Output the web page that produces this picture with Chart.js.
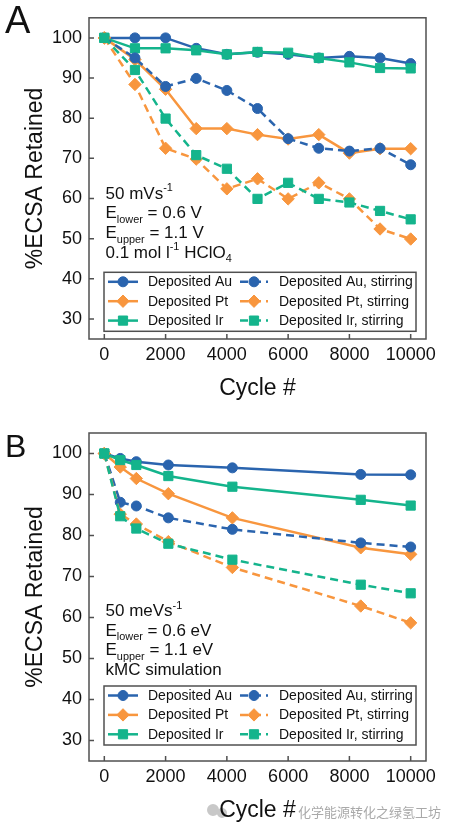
<!DOCTYPE html>
<html>
<head>
<meta charset="utf-8">
<script src="https://cdn.jsdelivr.net/npm/chart.js@4.4.0/dist/chart.umd.min.js"></script>
<style>
body { margin: 0; background: #fff; }
canvas { display: block; }
</style>
</head>
<body>
<canvas id="chartA" width="455" height="415"></canvas>
<canvas id="chartB" width="455" height="416"></canvas>
<script>
// panel A: experiment
const cyclesA = [0, 1000, 2000, 3000, 4000, 5000, 6000, 7000, 8000, 9000, 10000];
const auA     = [100, 100, 100, 97.4, 95.9, 96.4, 95.9, 95.0, 95.4, 95.0, 93.6];
const ptA     = [100, 94.6, 87.2, 77.4, 77.4, 75.9, 74.8, 75.9, 71.3, 72.4, 72.4];
const irA     = [100, 97.4, 97.4, 96.9, 95.9, 96.5, 96.3, 95.0, 93.9, 92.5, 92.4];
const auStirA = [100, 95.0, 87.9, 89.9, 86.9, 82.4, 74.9, 72.5, 71.8, 72.5, 68.4];
const ptStirA = [100, 88.4, 72.5, 69.8, 62.4, 64.9, 59.9, 63.9, 59.9, 52.4, 49.9];
const irStirA = [100, 92.0, 79.9, 70.8, 67.4, 59.9, 63.9, 59.9, 59.0, 56.9, 54.8];

// panel B: kMC simulation
const cyclesB = [0, 520, 1045, 2090, 4180, 8370, 10000];
const auB     = [100, 98.8, 98.0, 97.2, 96.5, 94.9, 94.8];
const ptB     = [100, 96.7, 93.9, 90.2, 84.3, 77.0, 75.4];
const irB     = [100, 98.4, 97.2, 94.5, 91.9, 88.7, 87.3];
const auStirB = [100, 88.1, 87.2, 84.3, 81.5, 78.2, 77.2];
const ptStirB = [100, 85.2, 82.8, 78.5, 72.2, 62.8, 58.7];
const irStirB = [100, 84.7, 81.7, 78.0, 74.1, 68.0, 65.9];

const xTicks = [0, 2000, 4000, 6000, 8000, 10000];
const yTicks = [30, 40, 50, 60, 70, 80, 90, 100];
const seriesNames = ['Deposited Au', 'Deposited Pt', 'Deposited Ir',
  'Deposited Au, stirring', 'Deposited Pt, stirring', 'Deposited Ir, stirring'];

const colors = ['#2a64ae', '#f8963e', '#14b48c'];
const markers = ['circle', 'rectRot', 'rect'];
const radii = [5, 6.2, 6.5];
const FONT = '"Liberation Sans", Arial, Helvetica, sans-serif';
const frameColor = '#505050';

// text blocks (0 normal, 1 superscript, -1 subscript)
const panels = {
  chartA: {
    letter: 'A', letterSize: 38, letterY: 33, textTop: 180.7, legendTop: 254.5,
    note: [
      [['50 mVs', 0], ['-1', 1]],
      [['E', 0], ['lower', -1], [' = 0.6 V', 0]],
      [['E', 0], ['upper', -1], [' = 1.1 V', 0]],
      [['0.1 mol l', 0], ['-1', 1], [' HClO', 0], ['4', -1]]
    ]
  },
  chartB: {
    letter: 'B', letterSize: 32, letterY: 42, textTop: 183, legendTop: 253,
    note: [
      [['50 meVs', 0], ['-1', 1]],
      [['E', 0], ['lower', -1], [' = 0.6 eV', 0]],
      [['E', 0], ['upper', -1], [' = 1.1 eV', 0]],
      [['kMC simulation', 0]]
    ],
    watermark: '化学能源转化之绿氢工坊'
  }
};

function makeDatasets(xs, series) {
  return series.map((ys, i) => ({
    label: seriesNames[i],
    data: xs.map((x, k) => ({ x: x, y: ys[k] })),
    borderColor: colors[i % 3],
    backgroundColor: colors[i % 3],
    pointBackgroundColor: colors[i % 3],
    pointBorderColor: colors[i % 3],
    borderWidth: 2.5,
    borderDash: i >= 3 ? [8, 5] : [],
    pointStyle: markers[i % 3],
    pointRadius: radii[i % 3],
    pointBorderWidth: 1,
    tension: 0,
    order: 6 - i
  }));
}

function drawRich(ctx, runs, x, y, size) {
  runs.forEach(r => {
    const s = r[1] ? size * 0.64 : size;
    ctx.font = s + 'px ' + FONT;
    const dy = r[1] === -1 ? size * 0.28 : r[1] === 1 ? -size * 0.42 : 0;
    ctx.fillText(r[0], x, y + dy);
    x += ctx.measureText(r[0]).width;
  });
}

function drawMarker(ctx, i, cx, cy) {
  ctx.fillStyle = colors[i % 3];
  ctx.strokeStyle = colors[i % 3];
  ctx.lineWidth = 1;
  ctx.setLineDash([]);
  Chart.helpers.drawPoint(ctx, { pointStyle: markers[i % 3], radius: radii[i % 3], rotation: 0, borderWidth: 1 }, cx, cy);
}

const decor = {
  id: 'decor',
  afterDraw(chart) {
    const p = panels[chart.canvas.id];
    const ctx = chart.ctx;
    const a = chart.chartArea;
    ctx.save();

    // frame + inward ticks
    ctx.strokeStyle = frameColor;
    ctx.lineWidth = 1.5;
    ctx.setLineDash([]);
    ctx.strokeRect(a.left, a.top, a.right - a.left, a.bottom - a.top);
    ctx.beginPath();
    chart.scales.x.ticks.forEach(t => {
      const px = chart.scales.x.getPixelForValue(t.value);
      ctx.moveTo(px, a.bottom);
      ctx.lineTo(px, a.bottom - 5);
    });
    chart.scales.y.ticks.forEach(t => {
      const py = chart.scales.y.getPixelForValue(t.value);
      ctx.moveTo(a.left, py);
      ctx.lineTo(a.left + 5, py);
    });
    ctx.stroke();

    // conditions text
    ctx.fillStyle = '#111';
    ctx.textBaseline = 'alphabetic';
    ctx.textAlign = 'left';
    p.note.forEach((line, k) => drawRich(ctx, line, 105.5, a.top + p.textTop + k * 19.7, 17));

    // legend
    const lt = a.top + p.legendTop;
    ctx.fillStyle = '#fff';
    ctx.fillRect(104, lt, 312, 59);
    ctx.strokeStyle = frameColor;
    ctx.lineWidth = 1.5;
    ctx.strokeRect(104, lt, 312, 59);
    seriesNames.forEach((name, i) => {
      const col = i < 3 ? 0 : 1;
      const row = i % 3;
      const y = lt + 9.5 + row * 19.4;
      const x1 = col ? 240 : 108, x2 = col ? 268 : 138, tx = col ? 279 : 148;
      ctx.strokeStyle = colors[i % 3];
      ctx.lineWidth = 2.5;
      ctx.setLineDash(col ? [8, 5] : []);
      ctx.lineDashOffset = col ? 0 : 0;
      ctx.beginPath();
      ctx.moveTo(x1, y);
      ctx.lineTo(x2, y);
      ctx.stroke();
      drawMarker(ctx, i, (x1 + x2) / 2, y);
      ctx.fillStyle = '#111';
      ctx.font = '14px ' + FONT;
      ctx.textBaseline = 'middle';
      ctx.fillText(name, tx, y + 0.5);
    });

    // watermark (panel B only)
    if (p.watermark) {
      ctx.fillStyle = '#c8c8c8';
      ctx.beginPath();
      ctx.arc(213, a.bottom + 49, 6, 0, Math.PI * 2);
      ctx.arc(222, a.bottom + 52, 5, 0, Math.PI * 2);
      ctx.fill();
      ctx.fillStyle = '#a9a9a9';
      ctx.font = '13px "Noto Sans CJK SC", sans-serif';
      ctx.textBaseline = 'alphabetic';
      ctx.fillText(p.watermark, 298, a.bottom + 56);
    }

    // axis titles
    ctx.fillStyle = '#111';
    ctx.font = '23px ' + FONT;
    ctx.textAlign = 'center';
    ctx.textBaseline = 'middle';
    ctx.fillText('Cycle #', (a.left + a.right) / 2, a.bottom + 50);
    ctx.save();
    ctx.translate(36, (a.top + a.bottom) / 2);
    ctx.rotate(-Math.PI / 2);
    ctx.fillText('%ECSA Retained', 0, 0);
    ctx.restore();

    // panel letter
    ctx.textAlign = 'left';
    ctx.textBaseline = 'alphabetic';
    ctx.font = p.letterSize + 'px ' + FONT;
    ctx.fillText(p.letter, 5, p.letterY);
    ctx.restore();
  }
};

function makeOptions(top, axisH) {
  return {
    responsive: false,
    animation: false,
    devicePixelRatio: 1,
    layout: { padding: { top: top, right: 29, left: 0, bottom: 0 } },
    plugins: { legend: { display: false }, tooltip: { enabled: false } },
    scales: {
      x: {
        type: 'linear', min: -500, max: 10500,
        grid: { display: false, drawTicks: false },
        border: { display: false },
        afterBuildTicks: s => { s.ticks = xTicks.map(v => ({ value: v })); },
        afterFit: s => { s.height = axisH; },
        ticks: { font: { family: FONT, size: 18 }, color: '#111', padding: 5, maxRotation: 0, autoSkip: false,
          callback: v => String(v) }
      },
      y: {
        type: 'linear', min: 25, max: 105,
        grid: { display: false, drawTicks: false },
        border: { display: false },
        afterBuildTicks: s => { s.ticks = yTicks.map(v => ({ value: v })); },
        afterFit: s => { s.width = 89; },
        ticks: { font: { family: FONT, size: 18 }, color: '#111', padding: 7, autoSkip: false,
          callback: v => String(v) }
      }
    }
  };
}

new Chart(document.getElementById('chartA'), {
  type: 'line',
  data: { datasets: makeDatasets(cyclesA, [auA, ptA, irA, auStirA, ptStirA, irStirA]) },
  options: makeOptions(11, 76),
  plugins: [decor]
});

new Chart(document.getElementById('chartB'), {
  type: 'line',
  data: { datasets: makeDatasets(cyclesB, [auB, ptB, irB, auStirB, ptStirB, irStirB]) },
  options: makeOptions(18, 70),
  plugins: [decor]
});
</script>
</body>
</html>
